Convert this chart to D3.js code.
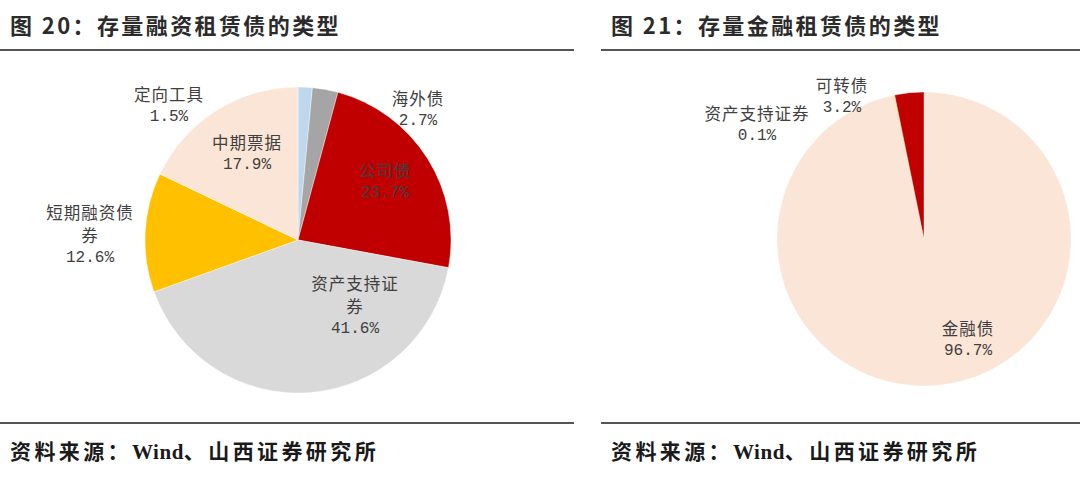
<!DOCTYPE html>
<html>
<head>
<meta charset="utf-8">
<script src="https://cdn.jsdelivr.net/npm/d3@7"></script>
<style>
  body { margin: 0; background: #fff; }
  svg { display: block; }
</style>
</head>
<body>
<svg id="chart" width="1080" height="479"></svg>
<script>
// chart data
const leftTitle = '图 20：存量融资租赁债的类型'
const leftCategories = ['定向工具', '海外债', '公司债', '资产支持证券', '短期融资债券', '中期票据']
const leftValues = [1.5, 2.7, 23.7, 41.6, 12.6, 17.9]

const rightTitle = '图 21：存量金融租赁债的类型'
const rightCategories = ['金融债', '资产支持证券', '可转债']
const rightValues = [96.7, 0.1, 3.2]

const sourceParts = ['资料来源：', 'Wind', '、山西证券研究所']

// colours per category
const colors = {
  '定向工具': '#bdd7ee',
  '海外债': '#a5a5a5',
  '公司债': '#c00000',
  '资产支持证券': '#d9d9d9',
  '短期融资债券': '#ffc000',
  '中期票据': '#fbe5d6'
}
const rightColors = {
  '金融债': '#fbe5d6',
  '资产支持证券': '#ffc000',
  '可转债': '#c00000'
}

// label placement (offset of first line from pie centre) and line breaks
const leftLabelLayout = {
  '定向工具': { dx: -129, dy: -146 },
  '海外债': { dx: 120, dy: -142 },
  '公司债': { dx: 87, dy: -70 },
  '资产支持证券': { dx: 57, dy: 43, lines: ['资产支持证', '券'] },
  '短期融资债券': { dx: -208, dy: -28, lines: ['短期融资债', '券'] },
  '中期票据': { dx: -51, dy: -98 }
}
const rightLabelLayout = {
  '金融债': { dx: 44, dy: 89 },
  '资产支持证券': { dx: -167, dy: -126 },
  '可转债': { dx: -82, dy: -154 }
}

const svg = d3.select('#chart')
const cjk = '"Noto Sans CJK SC", "Noto Sans", sans-serif'
const lineH = 23

function drawPanel (opts) {
  const g = svg.append('g')

  // header
  g.append('text')
    .attr('x', opts.x0 + 10)
    .attr('y', 24)
    .attr('dominant-baseline', 'central')
    .attr('font-family', cjk)
    .attr('font-weight', 'bold')
    .attr('font-size', 22)
    .attr('letter-spacing', 2.4)
    .attr('fill', '#2b2b2b')
    .text(opts.title)

  g.append('line')
    .attr('x1', opts.x0).attr('x2', opts.x1)
    .attr('y1', 50).attr('y2', 50)
    .attr('stroke', '#555').attr('stroke-width', 2.2)

  g.append('line')
    .attr('x1', opts.x0).attr('x2', opts.x1)
    .attr('y1', 423).attr('y2', 423)
    .attr('stroke', '#555').attr('stroke-width', 2.2)

  const src = g.append('text')
    .attr('x', opts.x0 + 10)
    .attr('y', 452)
    .attr('dominant-baseline', 'central')
    .attr('font-family', '"Liberation Serif", ' + cjk)
    .attr('font-weight', 'bold')
    .attr('font-size', 21)
    .attr('fill', '#1a1a1a')
  sourceParts.forEach((t, i) => {
    src.append('tspan')
      .attr('letter-spacing', i === 1 ? 0.5 : 3.4)
      .text(t)
  })

  // pie
  const data = opts.categories.map((c, i) => ({ name: c, value: opts.values[i] }))
  const pie = d3.pie().sort(null).value(d => d.value)
  const arc = d3.arc().innerRadius(0).outerRadius(opts.r)

  const pg = g.append('g')
    .attr('transform', `translate(${opts.cx},${opts.cy})`)

  pg.selectAll('path')
    .data(pie(data))
    .join('path')
    .attr('d', arc)
    .attr('fill', d => opts.colors[d.data.name])
    .attr('stroke', '#fff')
    .attr('stroke-width', 0.4)

  // labels
  const labels = pg.selectAll('g.label')
    .data(pie(data))
    .join('g')
    .attr('class', 'label')
    .attr('transform', d => {
      const l = opts.layout[d.data.name]
      return `translate(${l.dx},${l.dy})`
    })

  labels.each(function (d) {
    const l = opts.layout[d.data.name]
    const lines = l.lines || [d.data.name]
    const sel = d3.select(this)
    lines.forEach((t, i) => {
      sel.append('text')
        .attr('y', i * lineH)
        .attr('text-anchor', 'middle')
        .attr('dominant-baseline', 'central')
        .attr('font-family', cjk)
        .attr('font-size', 16.5)
        .attr('letter-spacing', 1)
        .attr('fill', '#404040')
        .text(t)
    })
    sel.append('text')
      .attr('y', lines.length * lineH)
      .attr('text-anchor', 'middle')
      .attr('dominant-baseline', 'central')
      .attr('font-family', '"Liberation Mono", monospace')
      .attr('font-size', 16)
      .attr('fill', '#404040')
      .text(d3.format('.1f')(d.data.value) + '%')
  })
}

drawPanel({
  x0: 0, x1: 574,
  title: leftTitle,
  categories: leftCategories,
  values: leftValues,
  colors: colors,
  layout: leftLabelLayout,
  cx: 298, cy: 240, r: 153
})

drawPanel({
  x0: 601, x1: 1080,
  title: rightTitle,
  categories: rightCategories,
  values: rightValues,
  colors: rightColors,
  layout: rightLabelLayout,
  cx: 924, cy: 239, r: 147
})
</script>
</body>
</html>
